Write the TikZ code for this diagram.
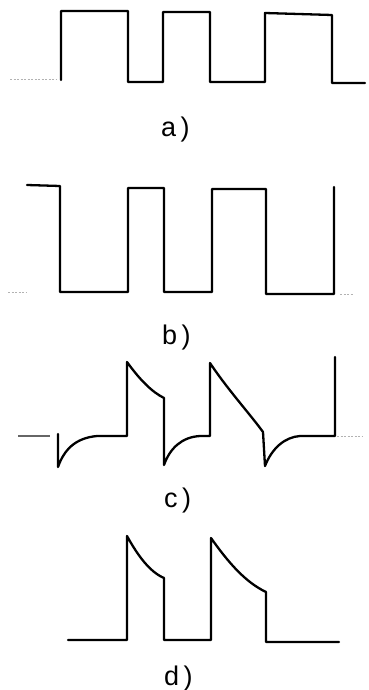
\documentclass[tikz,border=0pt]{standalone}
\usepackage{fontspec}
\setmainfont{Liberation Sans}
\begin{document}
\begin{tikzpicture}[x=1pt,y=-1pt,
  wave/.style={line width=2.3pt,line join=round,line cap=round},
  faint/.style={gray!60,line width=1pt,dash pattern=on 2pt off 1.5pt},
  thinbase/.style={gray!80!black,line width=1.2pt},
  lbl/.style={inner sep=0pt,anchor=base west,font=\fontsize{27}{30}\selectfont}]
\useasboundingbox (0,0) rectangle (369,690);
% a)
\draw[faint] (10,80) -- (57,80);
\draw[wave] (61,80) -- (61,11) -- (128,11) -- (128,82) -- (163,82) -- (163,12)
  -- (210,12) -- (210,82) -- (265,82) -- (265,13) -- (332,15) -- (332,83) -- (365,83);
\node[lbl] (la) at (161,136) {a\,)};
% b)
\draw[faint] (8,292) -- (27,292);
\draw[faint] (340,294) -- (353,294);
\draw[wave] (27,185) -- (60,186) -- (60,292) -- (128,292) -- (128,188) -- (164,188)
  -- (164,292) -- (212,292) -- (212,189) -- (266,189) -- (266,294) -- (334,294) -- (334,187);
\node[lbl] (lb) at (162,344) {b\,)};
% c)
\draw[thinbase] (18,436) -- (50,436);
\draw[faint] (337,436) -- (363,436);
\draw[wave] (58,434) -- (58,467) .. controls (64,450) and (75,438) .. (97,436) -- (127,436)
  -- (127,362) .. controls (140,380) and (152,392) .. (164,398) -- (164,465)
  .. controls (170,448) and (182,437) .. (200,436) -- (210,436)
  -- (210,363) .. controls (228,390) and (250,414) .. (263,432) -- (265,466)
  .. controls (272,448) and (285,437) .. (300,436) -- (335,436) -- (335,357);
\node[lbl] (lc) at (164,507) {c\,)};
% d)
\draw[wave] (68,640) -- (127,640) -- (127,536) .. controls (138,556) and (150,572) .. (164,578)
  -- (164,640) -- (211,640) -- (211,538) .. controls (228,562) and (245,582) .. (266,592)
  -- (266,642) -- (339,642);
\node[lbl] (ld) at (164,685) {d\,)};
\end{tikzpicture}
\end{document}
